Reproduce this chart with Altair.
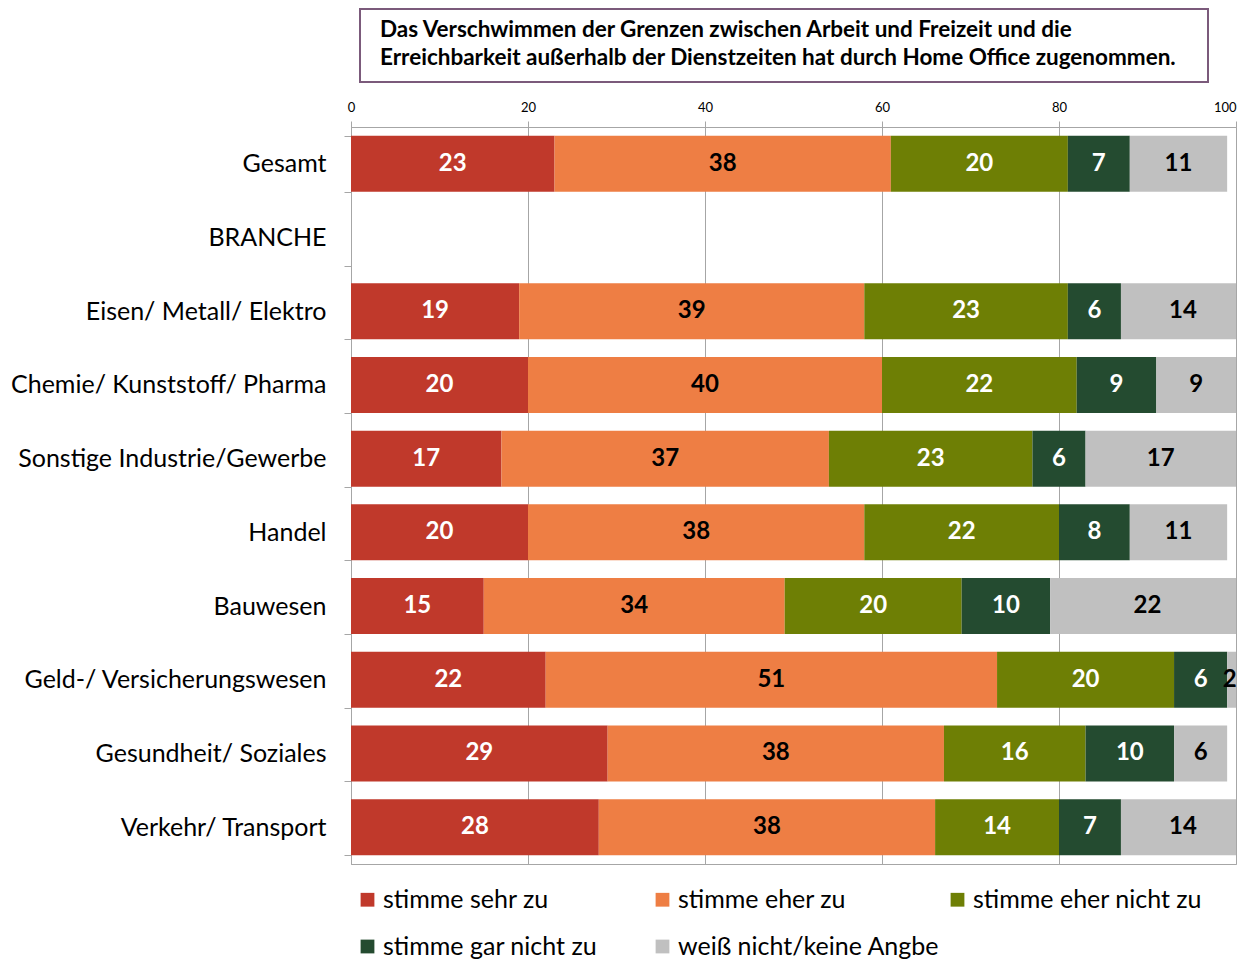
import altair as alt
import pandas as pd

categories = ["Gesamt", "BRANCHE", "Eisen/ Metall/ Elektro", "Chemie/ Kunststoff/ Pharma",
              "Sonstige Industrie/Gewerbe", "Handel", "Bauwesen",
              "Geld-/ Versicherungswesen", "Gesundheit/ Soziales", "Verkehr/ Transport"]
series = ["stimme sehr zu", "stimme eher zu", "stimme eher nicht zu",
          "stimme gar nicht zu", "weiß nicht/keine Angbe"]
colors = ["#C0392B", "#EE7E44", "#6E7F05", "#244B30", "#C0C0C0"]
text_colors = ["white", "black", "white", "white", "black"]

sehr_zu = [23, None, 19, 20, 17, 20, 15, 22, 29, 28]
eher_zu = [38, None, 39, 40, 37, 38, 34, 51, 38, 38]
eher_nicht_zu = [20, None, 23, 22, 23, 22, 20, 20, 16, 14]
gar_nicht_zu = [7, None, 6, 9, 6, 8, 10, 6, 10, 7]
weiss_nicht = [11, None, 14, 9, 17, 11, 22, 2, 6, 14]

title_lines = ["Das Verschwimmen der Grenzen zwischen Arbeit und Freizeit und die",
               "Erreichbarkeit außerhalb der Dienstzeiten hat durch Home Office zugenommen."]
x_ticks = [0, 20, 40, 60, 80, 100]

rows = []
all_series = [sehr_zu, eher_zu, eher_nicht_zu, gar_nicht_zu, weiss_nicht]
for i, cat in enumerate(categories):
    start = 0
    for j, s in enumerate(series):
        v = all_series[j][i]
        if v is None:
            continue
        end = start + v
        rows.append({"cat": cat, "series": s, "value": v, "start": start, "end": end,
                     "mid": min((start + end) / 2, 99.3), "tcolor": text_colors[j]})
        start = end
df = pd.DataFrame(rows)

FONT = "Lato"
GRAY = "#A6A6A6"

y_enc = alt.Y("cat:N", scale=alt.Scale(domain=categories, paddingInner=0.24, paddingOuter=0.12),
              axis=alt.Axis(title=None, labelFont=FONT, labelFontSize=25, labelColor="black",
                            tickBand="extent", tickSize=7, tickColor=GRAY, domainColor=GRAY,
                            labelPadding=18, labelLimit=0, grid=False))
x_scale = alt.Scale(domain=[0, 100], nice=False)

bars = alt.Chart(df).mark_bar(clip=True).encode(
    y=y_enc,
    x=alt.X("start:Q", scale=x_scale,
            axis=alt.Axis(orient="top", values=x_ticks, title=None, grid=True, gridColor=GRAY,
                          domainColor=GRAY, tickColor=GRAY, tickSize=6, labelFont=FONT,
                          labelFontSize=13, labelColor="black", labelPadding=7, labelFlush=False,
                          labelAlign=alt.condition("datum.value >= 100", alt.value("right"),
                                                   alt.value("center")))),
    x2="end:Q",
    color=alt.Color("series:N", scale=alt.Scale(domain=series, range=colors), sort=series,
                    legend=alt.Legend(orient="none", legendX=4, legendY=760, direction="horizontal",
                                      columns=3, title=None, symbolType="square", symbolSize=190,
                                      symbolStrokeWidth=0, labelFont=FONT, labelFontSize=25,
                                      labelColor="black", columnPadding=5, rowPadding=21,
                                      labelOffset=3, gridAlign="all", labelLimit=0, padding=0,
                                      offset=0)),
)

text_white = alt.Chart(df).transform_filter(alt.datum.tcolor == "white").mark_text(
    font=FONT, fontSize=24, fontWeight="bold", color="white", baseline="middle").encode(
    y=alt.Y("cat:N", scale=alt.Scale(domain=categories)), x=alt.X("mid:Q", scale=x_scale),
    text="value:Q")
text_black = alt.Chart(df).transform_filter(alt.datum.tcolor == "black").mark_text(
    font=FONT, fontSize=24, fontWeight="bold", color="black", baseline="middle").encode(
    y=alt.Y("cat:N", scale=alt.Scale(domain=categories)), x=alt.X("mid:Q", scale=x_scale),
    text="value:Q")

box = alt.Chart(pd.DataFrame({"a": [0]})).mark_rect(fill="white", stroke="#7B5A7B", strokeWidth=2).encode(
    x=alt.value(9), x2=alt.value(857), y=alt.value(-118), y2=alt.value(-45))
title = alt.Chart(pd.DataFrame({"t": ["\n".join(title_lines)]})).mark_text(
    font=FONT, fontSize=22.5, fontWeight="bold", color="black", align="left", baseline="middle",
    lineBreak="\n", lineHeight=28).encode(x=alt.value(29), y=alt.value(-97), text="t:N")

chart = alt.layer(bars, text_white, text_black, box, title).properties(
    width=885, height=737,
    autosize=alt.AutoSizeParams(type="none"),
    padding={"left": 343, "top": 119, "right": 5, "bottom": 100},
).configure_view(stroke=GRAY)

chart.save("out.html", embed_options={"renderer": "svg", "actions": False})
